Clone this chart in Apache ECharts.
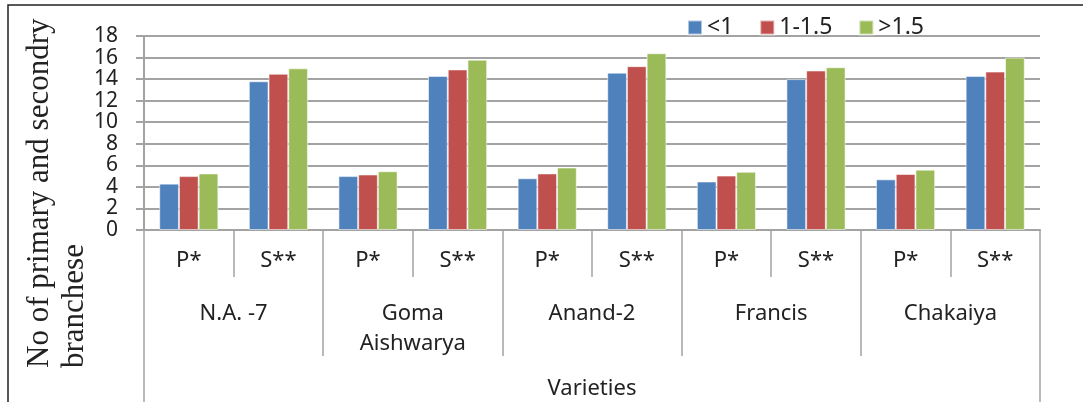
<!DOCTYPE html>
<html>
<head>
<meta charset="utf-8">
<script src="https://cdn.jsdelivr.net/npm/echarts@6/dist/echarts.min.js"></script>
<style>
html,body{margin:0;padding:0;background:#fff;}
#c{width:1083px;height:402px;}
</style>
</head>
<body>
<div id="c"></div>
<script>
// ---- data ----
const partLabels = ['P*','S**','P*','S**','P*','S**','P*','S**','P*','S**'];
const varieties = ['N.A. -7','Goma\nAishwarya','Anand-2','Francis','Chakaiya'];
const outerLabel = ['Varieties'];
const seriesNames = ['<1','1-1.5','>1.5'];
const valLess1   = [4.3, 13.8, 5.0, 14.3, 4.8, 14.6, 4.5, 14.0, 4.7, 14.3];
const val1to15   = [5.0, 14.5, 5.15, 14.9, 5.25, 15.2, 5.05, 14.8, 5.2, 14.7];
const valOver15  = [5.25, 15.0, 5.45, 15.8, 5.8, 16.4, 5.4, 15.1, 5.6, 16.0];
const yTicks = {min: 0, max: 18, interval: 2};
const yTitle1 = 'No of primary and secondry';
const yTitle2 = 'branchese';

const colors = ['#4F81BD','#C0504D','#9BBB59'];
const gray = '#a3a3a3';
const sans = 'Noto Sans';

const chart = echarts.init(document.getElementById('c'), null, {renderer:'canvas'});
const values = [valLess1, val1to15, valOver15];

chart.setOption({
  animation: false,
  color: colors,
  grid: {left: 144, right: 43, top: 36, bottom: 172, containLabel: false},
  legend: {
    left: 682, top: 11,
    itemWidth: 14, itemHeight: 14, itemGap: 26,
    icon: 'rect',
    textStyle: {fontFamily: sans, fontSize: 23, color: '#222'},
    data: seriesNames
  },
  xAxis: [
    {
      type: 'category', data: partLabels, position: 'bottom',
      axisLine: {show: true, lineStyle: {color: gray, width: 2}},
      axisTick: {show: true, interval: 0, length: 47, lineStyle: {color: gray, width: 1.5}},
      axisLabel: {interval: 0, margin: 20, fontFamily: sans, fontSize: 22, color: '#222'},
      splitLine: {show: false}
    },
    {
      type: 'category', data: varieties, position: 'bottom',
      axisLine: {show: false},
      axisTick: {show: true, interval: 0, length: 126, lineStyle: {color: gray, width: 1.5}},
      axisLabel: {interval: 0, margin: 69, fontFamily: sans, fontSize: 22, color: '#222', lineHeight: 30},
      splitLine: {show: false}
    },
    {
      type: 'category', data: outerLabel, position: 'bottom',
      axisLine: {show: false},
      axisTick: {show: true, interval: 0, length: 200, lineStyle: {color: gray, width: 1.5}},
      axisLabel: {interval: 0, margin: 148, fontFamily: sans, fontSize: 22, color: '#222'},
      splitLine: {show: false}
    }
  ],
  yAxis: {
    type: 'value', min: yTicks.min, max: yTicks.max, interval: yTicks.interval,
    axisLine: {show: true, lineStyle: {color: gray, width: 2}},
    axisTick: {show: true, length: 8, lineStyle: {color: gray, width: 2}},
    axisLabel: {margin: 26, fontFamily: sans, fontSize: 21, color: '#222'},
    splitLine: {show: true, lineStyle: {color: gray, width: 2}}
  },
  series: seriesNames.map((n, i) => ({
    name: n, type: 'bar', xAxisIndex: 0, data: values[i],
    barGap: '0%', barCategoryGap: '34%',
    itemStyle: {color: colors[i], borderColor: 'rgba(255,255,255,0.55)', borderWidth: 1}
  })),
  graphic: [
    {type: 'polyline', shape: {points: [[8, 402], [8, 5], [1083, 5]]},
     style: {stroke: '#222', lineWidth: 1.5, fill: null}},
    {type: 'text', x: 40, y: 368, rotation: Math.PI/2,
     style: {text: yTitle1, font: '31px "Liberation Serif"', fill: '#222', textAlign: 'left', textVerticalAlign: 'middle'}},
    {type: 'text', x: 75, y: 368, rotation: Math.PI/2,
     style: {text: yTitle2, font: '31px "Liberation Serif"', fill: '#222', textAlign: 'left', textVerticalAlign: 'middle'}}
  ]
});
</script>
</body>
</html>
